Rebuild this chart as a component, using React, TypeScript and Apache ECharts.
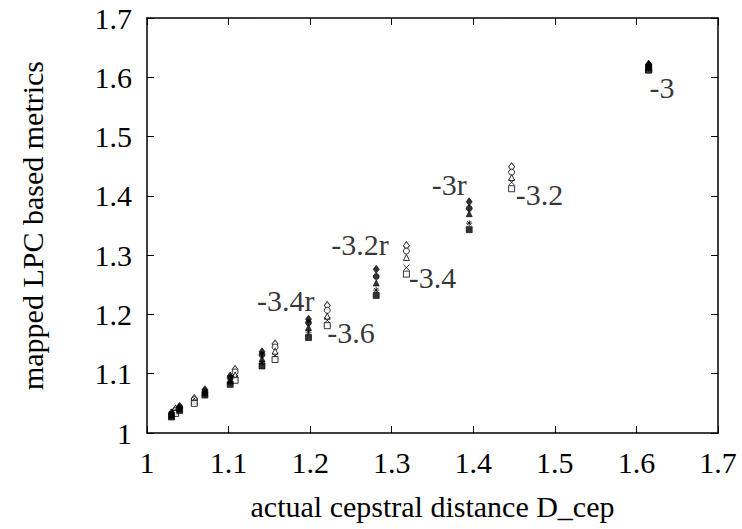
import React, { useEffect, useRef } from "react";
import * as echarts from "echarts";

// Filled ("r") conditions: x positions and per-metric y values
const filledX = [1.615, 1.395, 1.281, 1.198, 1.141, 1.102, 1.071, 1.040, 1.030];
const filledDiamond = [1.622, 1.390, 1.276, 1.192, 1.137, 1.096, 1.073, 1.045, 1.034];
const filledCircle = [1.620, 1.379, 1.264, 1.186, 1.132, 1.093, 1.070, 1.043, 1.032];
const filledTriangle = [1.617, 1.370, 1.253, 1.178, 1.125, 1.088, 1.068, 1.041, 1.030];
const filledStar = [1.615, 1.354, 1.241, 1.170, 1.118, 1.085, 1.066, 1.040, 1.028];
const filledSquare = [1.613, 1.343, 1.232, 1.161, 1.113, 1.082, 1.064, 1.038, 1.027];

// Open conditions
const openX = [1.615, 1.447, 1.318, 1.221, 1.157, 1.108, 1.058, 1.035];
const openDiamond = [1.621, 1.449, 1.316, 1.215, 1.150, 1.107, 1.058, 1.040];
const openCircle = [1.619, 1.440, 1.307, 1.207, 1.145, 1.103, 1.056, 1.038];
const openTriangle = [1.617, 1.431, 1.296, 1.197, 1.138, 1.098, 1.054, 1.036];
const openCross = [1.614, 1.423, 1.279, 1.190, 1.130, 1.093, 1.052, 1.035];
const openSquare = [1.612, 1.412, 1.268, 1.181, 1.124, 1.089, 1.050, 1.033];

// Annotation labels (text, anchor x = left edge, anchor y = vertical middle)
const labelTexts = ["-3", "-3.2", "-3r", "-3.2r", "-3.4", "-3.4r", "-3.6"];
const labelX = [1.616, 1.452, 1.349, 1.226, 1.321, 1.135, 1.221];
const labelY = [1.582, 1.402, 1.420, 1.318, 1.263, 1.224, 1.170];

const ASTERISK = "path://M0,5L10,5M5,0L5,10M1.5,1.5L8.5,8.5M1.5,8.5L8.5,1.5";
const CROSS = "path://M0,0L10,10M0,10L10,0";

const FONT = "Liberation Serif";
const FS = 30;

function pts(xs: number[], ys: number[]) {
  return xs.map((x, i) => [x, ys[i]]);
}

export default function App() {
  const ref = useRef<HTMLDivElement>(null);
  useEffect(() => {
    if (!ref.current) return;
    const chart = echarts.init(ref.current, null, { renderer: "svg" });
    const filledStyle = { color: "#000", borderColor: "#000", borderWidth: 0.8 };
    const openStyle = { color: "#fff", borderColor: "#000", borderWidth: 1 };
    const strokeStyle = { color: "rgba(0,0,0,0)", borderColor: "#000", borderWidth: 1 };
    const mk = (name: string, data: number[][], symbol: string, size: any, style: any, z: number) => ({
      name,
      type: "scatter",
      data,
      symbol,
      symbolSize: size,
      itemStyle: style,
      z,
    });
    const axisCommon = {
      type: "value",
      min: 1,
      max: 1.7,
      interval: 0.1,
      splitLine: { show: false },
      axisLine: { show: true, onZero: false, lineStyle: { color: "#000", width: 1.5 } },
      axisTick: { show: true, inside: true, length: 7, lineStyle: { color: "#000", width: 1 } },
    };
    const fmt = (v: number) => String(+v.toFixed(1));
    chart.setOption({
      animation: false,
      backgroundColor: "#fff",
      grid: { left: 147, right: 24, top: 18, bottom: 96, containLabel: false },
      xAxis: [
        {
          ...axisCommon,
          position: "bottom",
          name: "actual cepstral distance D_cep",
          nameLocation: "middle",
          nameGap: 58,
          nameTextStyle: { fontFamily: FONT, fontSize: FS, color: "#000" },
          axisLabel: { fontFamily: FONT, fontSize: FS, color: "#000", margin: 14, formatter: fmt },
        },
        { ...axisCommon, position: "top", axisLabel: { show: false } },
      ],
      yAxis: [
        {
          ...axisCommon,
          position: "left",
          name: "mapped LPC based metrics",
          nameLocation: "middle",
          nameGap: 100,
          nameTextStyle: { fontFamily: FONT, fontSize: FS, color: "#000" },
          axisLabel: { fontFamily: FONT, fontSize: FS, color: "#000", margin: 15, formatter: fmt },
        },
        { ...axisCommon, position: "right", axisLabel: { show: false } },
      ],
      series: [
        mk("diamond", pts(openX, openDiamond), "diamond", [6, 8], openStyle, 2),
        mk("circle", pts(openX, openCircle), "circle", 6, openStyle, 2),
        mk("triangle", pts(openX, openTriangle), "triangle", 6, openStyle, 2),
        mk("cross", pts(openX, openCross), CROSS, 6, strokeStyle, 2),
        mk("square", pts(openX, openSquare), "rect", 6, openStyle, 2),
        mk("r diamond", pts(filledX, filledDiamond), "diamond", [6, 8], filledStyle, 3),
        mk("r circle", pts(filledX, filledCircle), "circle", 6, filledStyle, 3),
        mk("r triangle", pts(filledX, filledTriangle), "triangle", 6, filledStyle, 3),
        mk("r star", pts(filledX, filledStar), ASTERISK, 6, strokeStyle, 3),
        mk("r square", pts(filledX, filledSquare), "rect", 6, filledStyle, 3),
        {
          name: "labels",
          type: "scatter",
          symbolSize: 0,
          data: labelTexts.map((t, i) => ({ value: [labelX[i], labelY[i]], name: t })),
          label: {
            show: true,
            position: [0, 0],
            align: "left",
            verticalAlign: "middle",
            formatter: (p: any) => p.name,
            fontFamily: FONT,
            fontSize: FS,
            color: "#000",
          },
          z: 4,
        },
      ],
    });
    return () => chart.dispose();
  }, []);
  return (
    <div
      ref={ref}
      style={{ position: "absolute", left: 0, top: 0, width: 742, height: 529 }}
    />
  );
}
